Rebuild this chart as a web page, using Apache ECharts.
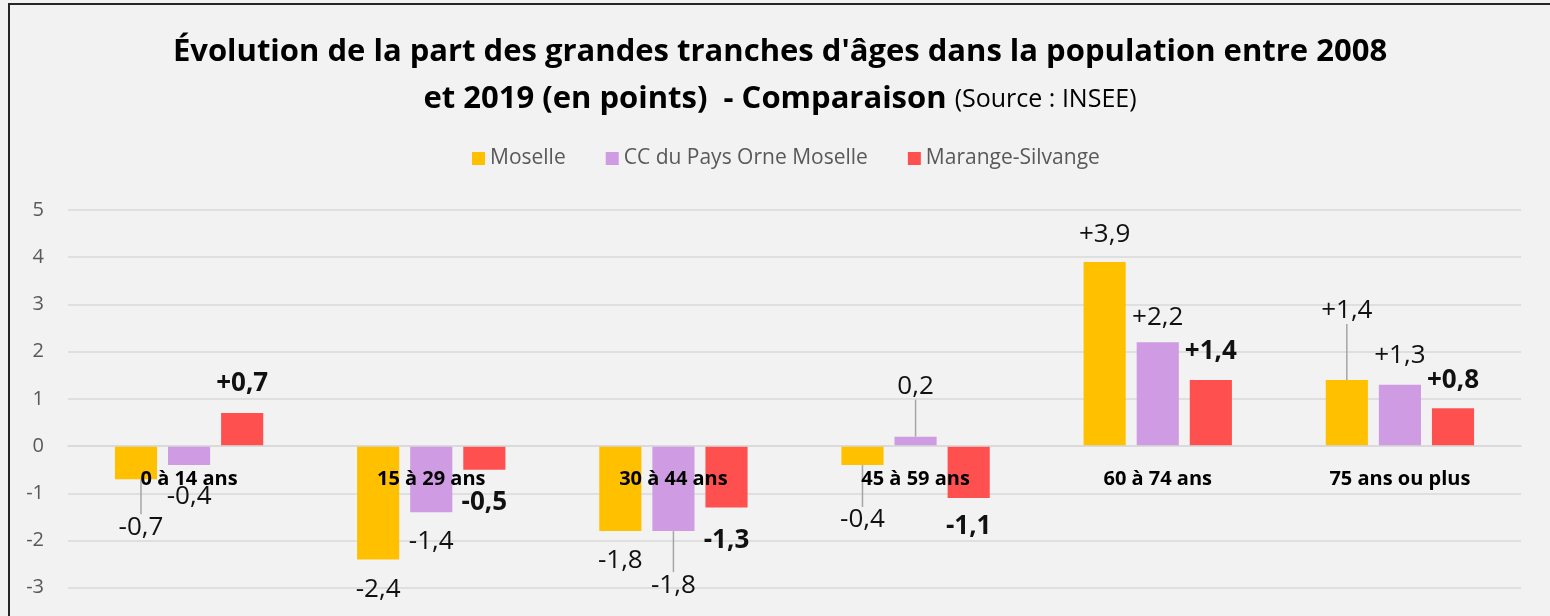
<!DOCTYPE html>
<html>
<head>
<meta charset="utf-8">
<title>Évolution de la part des grandes tranches d'âges</title>
<script src="https://cdn.jsdelivr.net/npm/echarts@6/dist/echarts.min.js"></script>
<style>
html, body { margin: 0; padding: 0; background: #f2f2f2; }
#main { width: 1550px; height: 616px; }
</style>
</head>
<body>
<div id="main"></div>
<script>
var categories = ['0 à 14 ans', '15 à 29 ans', '30 à 44 ans', '45 à 59 ans', '60 à 74 ans', '75 ans ou plus'];
var seriesNames = ['Moselle', 'CC du Pays Orne Moselle', 'Marange-Silvange'];
var moselle = [-0.7, -2.4, -1.8, -0.4, 3.9, 1.4];
var ccOrne = [-0.4, -1.4, -1.8, 0.2, 2.2, 1.3];
var marange = [0.7, -0.5, -1.3, -1.1, 1.4, 0.8];

var yMin = -4, yMax = 5;

// label placement, relative to the end of each bar (moved by hand as in the original)
var labelOffsets = [
	[[5, 48], [0, 30], [0, 29], [0, 55], [0, -27], [0, -69]],
	[[0, 32], [0, 29], [0, 54], [0, -50], [0, -25], [0, -29]],
	[[0, -29], [0, 33], [0, 33], [0, 29], [0, -28], [0, -28]]
];
// labels with a leader line
var leaders = [[0, 3, 5], [2, 3], []];
// positive labels written without '+'
var noPlus = [[], [3], []];

var colors = ['#FFC000', '#CF9BE3', '#FF5050'];
var font = 'Open Sans';
var gridTop = 210, gridHeight = 425;

function makeSeries(idx, values, bold) {
	return {
		name: seriesNames[idx],
		type: 'bar',
		barWidth: '17.4%',
		barGap: '26%',
		itemStyle: { color: colors[idx] },
		data: values.map(function (v, i) {
			var item = { value: v };
			if (leaders[idx].indexOf(i) >= 0) {
				item.labelLine = { show: true, lineStyle: { color: '#a6a6a6', width: 1.5 } };
			}
			return item;
		}),
		label: {
			show: true,
			position: 'top',
			fontFamily: font,
			fontSize: 26,
			fontWeight: bold ? 'bold' : 'normal',
			color: '#111',
			formatter: function (p) {
				var s = p.value.toFixed(1).replace('.', ',');
				if (p.value > 0 && noPlus[idx].indexOf(p.dataIndex) < 0) s = '+' + s;
				return s;
			}
		},
		labelLayout: function (p) {
			var r = p.rect;
			var top = Math.min(r.y, r.y + r.height);
			var bottom = Math.max(r.y, r.y + r.height);
			var end = values[p.dataIndex] >= 0 ? top : bottom;
			var o = labelOffsets[idx][p.dataIndex];
			return { x: r.x + r.width / 2 + o[0], y: end + o[1], align: 'center', verticalAlign: 'middle' };
		}
	};
}

var myChart = echarts.init(document.getElementById('main'));

myChart.setOption({
	backgroundColor: '#f2f2f2',
	animation: false,
	color: colors,

	title: {
		text: 'Évolution de la part des grandes tranches d\'âges dans la population entre 2008\net 2019 (en points)  - Comparaison {s|(Source : INSEE)}',
		left: 775,
		top: 24,
		textAlign: 'center',
		textStyle: {
			fontFamily: font,
			fontSize: 31,
			fontWeight: 'bold',
			color: '#000',
			lineHeight: 47,
			rich: {
				s: { fontFamily: font, fontSize: 25, fontWeight: 'normal', color: '#000', lineHeight: 47 }
			}
		}
	},

	legend: {
		data: seriesNames,
		left: 467,
		top: 143,
		icon: 'rect',
		itemWidth: 13,
		itemHeight: 13,
		itemGap: 40,
		textStyle: { fontFamily: font, fontSize: 21, color: '#595959' }
	},

	graphic: [{
		type: 'rect',
		silent: true,
		shape: { x: 9, y: 4, width: 1600, height: 700 },
		style: { fill: 'none', stroke: '#262626', lineWidth: 2 }
	}],

	grid: { left: 68, right: 29, top: gridTop, height: gridHeight, outerBoundsMode: 'none' },

	xAxis: {
		type: 'category',
		data: categories,
		z: 10,
		position: 'bottom',
		// category axis drawn on the zero line
		offset: -gridHeight * (0 - yMin) / (yMax - yMin),
		axisTick: { show: false },
		axisLine: { onZero: false, lineStyle: { color: '#d9d9d9', width: 1.5 } },
		axisLabel: { margin: 23, fontFamily: font, fontSize: 20, fontWeight: 'bold', color: '#000' }
	},

	yAxis: {
		type: 'value',
		min: yMin,
		max: yMax,
		interval: 1,
		axisLine: { show: false },
		axisTick: { show: false },
		axisLabel: { margin: 24, fontFamily: font, fontSize: 20, color: '#595959' },
		splitLine: { lineStyle: { color: '#d9d9d9', width: 1.5 } }
	},

	series: [
		makeSeries(0, moselle, false),
		makeSeries(1, ccOrne, false),
		makeSeries(2, marange, true)
	]
});
</script>
</body>
</html>
